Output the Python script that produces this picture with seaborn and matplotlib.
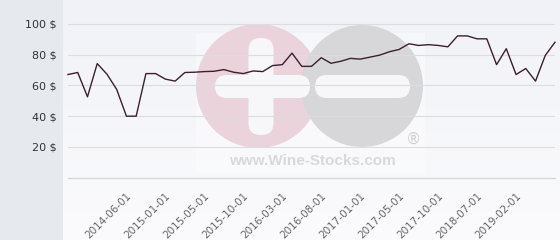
import numpy as np
import pandas as pd
import matplotlib
matplotlib.use("Agg")
import matplotlib.pyplot as plt
import seaborn as sns
from matplotlib.patches import Circle, FancyBboxPatch, Rectangle
from matplotlib.colors import LinearSegmentedColormap

# ---- data ----
prices = [67.1, 68.4, 52.6, 74.2, 67.3, 57.4, 40.0, 40.0, 67.7, 67.7,
          64.1, 62.8, 68.4, 68.6, 69.0, 69.2, 70.3, 68.6, 67.7, 69.4,
          69.0, 72.9, 73.5, 81.0, 72.4, 72.4, 78.0, 74.4, 75.7, 77.6,
          77.1, 78.4, 79.7, 81.9, 83.4, 87.1, 86.0, 86.5, 86.0, 85.1,
          92.2, 92.2, 90.3, 90.3, 73.5, 83.9, 67.1, 71.0, 62.8, 79.5,
          88.1]
tick_labels = ["2014-06-01", "2015-01-01", "2015-05-01", "2015-10-01",
               "2016-03-01", "2016-08-01", "2017-01-01", "2017-05-01",
               "2017-10-01", "2018-07-01", "2019-02-01"]
tick_index = [6, 10, 14, 18, 22, 26, 30, 34, 38, 42, 46]
y_ticks = [0, 20, 40, 60, 80, 100]
y_tick_labels = ["", "20 $", "40 $", "60 $", "80 $", "100 $"]

df = pd.DataFrame({"idx": np.arange(len(prices)), "price": prices})

W, H = 560, 240
fig = plt.figure(figsize=(W / 100, H / 100), dpi=100)
fig.patch.set_facecolor("#e6eaee")

# background gradient for chart area
bg = fig.add_axes([63 / W, 0, (W - 63) / W, 1], zorder=0)
grad = np.linspace(0, 1, 100).reshape(-1, 1)
cmap = LinearSegmentedColormap.from_list("g", ["#f1f2f7", "#fbfbfd"])
bg.imshow(grad, aspect="auto", cmap=cmap, extent=[0, 1, 1, 0])
bg.set_axis_off()

# watermark layer in pixel coordinates
wm = fig.add_axes([0, 0, 1, 1], zorder=1)
wm.set_xlim(0, W)
wm.set_ylim(H, 0)
wm.set_axis_off()
wm.patch.set_alpha(0)
wm.add_patch(Rectangle((196, 33), 229, 140, facecolor="#fdfdfe", edgecolor="none", alpha=0.45))
wm.add_patch(Circle((258, 86), 62, facecolor="#ead3db", edgecolor="none"))
wm.add_patch(Circle((362, 86), 61, facecolor="#d7d7d9", edgecolor="none"))
bar_c = "#f7f7fa"
wm.add_patch(FancyBboxPatch((248.5, 38), 25, 97, boxstyle="round,pad=0,rounding_size=12",
                            facecolor=bar_c, edgecolor="none"))
wm.add_patch(FancyBboxPatch((215, 75), 95, 23, boxstyle="round,pad=0,rounding_size=11.5",
                            facecolor=bar_c, edgecolor="none"))
wm.add_patch(FancyBboxPatch((315, 75), 95, 23, boxstyle="round,pad=0,rounding_size=11.5",
                            facecolor=bar_c, edgecolor="none"))
wm.text(413, 139, "®", ha="center", va="center", fontsize=11, color="#cfcfd2",
        family="DejaVu Sans")
wm.text(312, 161, "www.Wine-Stocks.com", ha="center", va="center", fontsize=11,
        fontweight="bold", color="#d9d9dc", family="Liberation Sans")

# main chart
ax = fig.add_axes([68 / W, (H - 178.3) / H, (555 - 68) / W, 155 / H], zorder=2)
ax.patch.set_alpha(0)
sns.lineplot(data=df, x="idx", y="price", ax=ax, color="#3b1f2e", linewidth=1.0)
ax.set_xlim(0, len(prices) - 1)
ax.set_ylim(-0.4, 100.4)
ax.set_yticks(y_ticks)
ax.set_yticklabels(y_tick_labels, fontsize=8, color="#333333", family="DejaVu Sans")
ax.set_xticks(tick_index)
ax.set_xticklabels(tick_labels, rotation=45, ha="right", va="top",
                   rotation_mode="anchor", fontsize=7.5, color="#666666",
                   family="DejaVu Sans")
ax.tick_params(axis="both", length=0)
ax.tick_params(axis="y", pad=8)
ax.tick_params(axis="x", pad=9)
ax.grid(axis="y", color="#dddddd", linewidth=0.8)
ax.grid(axis="x", visible=False)
ax.axhline(y_ticks[0], color="#d8d8d8", linewidth=0.9, zorder=0.5)
ax.set_axisbelow(True)
for s in ax.spines.values():
    s.set_visible(False)
ax.set_xlabel("")
ax.set_ylabel("")
for ln in ax.get_lines():
    ln.set_clip_on(False)

fig.savefig("out.png", dpi=100)
